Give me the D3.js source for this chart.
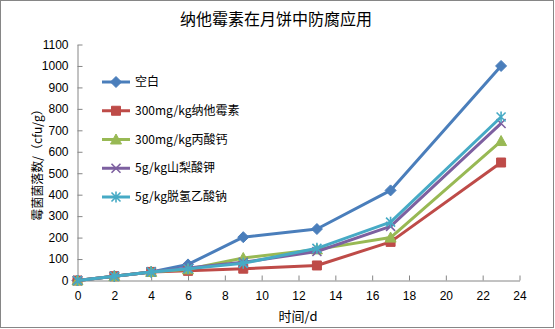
<!DOCTYPE html>
<html><head><meta charset="utf-8">
<script src="https://cdn.jsdelivr.net/npm/d3@7"></script>
<style>body{margin:0;background:#fff}svg{display:block}</style>
</head><body><svg id="c" width="555" height="329"></svg>
<script>
const days = [0, 2, 4, 6, 9, 13, 17, 23];
const seriesNames = ["空白", "300mg/kg纳他霉素", "300mg/kg丙酸钙", "5g/kg山梨酸钾", "5g/kg脱氢乙酸钠"];
const blank = [0, 20, 40, 75, 202, 240, 420, 1000];
const natamycin = [0, 20, 40, 45, 55, 70, 180, 550];
const calciumPropionate = [0, 20, 40, 52, 105, 145, 200, 650];
const potassiumSorbate = [0, 20, 40, 58, 85, 135, 252, 732];
const sodiumDehydroacetate = [0, 20, 40, 55, 80, 150, 272, 762];
const xTicks = [0, 2, 4, 6, 8, 10, 12, 14, 16, 18, 20, 22, 24];
const yTicks = [0, 100, 200, 300, 400, 500, 600, 700, 800, 900, 1000, 1100];
const title = "纳他霉素在月饼中防腐应用";
const xTitle = "时间/d";
const yTitle = "霉菌菌落数/（cfu/g）";

const colors = ["#4A7EBB", "#BE4B48", "#98B954", "#7D60A0", "#46AAC5"];
const shapes = ["diamond", "square", "triangle", "cross", "star"];
const allSeries = [blank, natamycin, calciumPropionate, potassiumSorbate, sodiumDehydroacetate];

const svg = d3.select("#c");
const font = "'Noto Sans CJK SC', 'Noto Sans', sans-serif";
const numFont = "'Liberation Sans', Arial, sans-serif";

svg.append("rect").attr("x", 0.5).attr("y", 0.5).attr("width", 553).attr("height", 327)
  .attr("fill", "#fff").attr("stroke", "#868686").attr("stroke-width", 1);

const x = d3.scaleLinear().domain([0, 24]).range([77.5, 519.5]);
const y = d3.scaleLinear().domain([0, 1100]).range([280.5, 44.5]);

// axes
const xAxis = svg.append("g").attr("transform", `translate(0,${y(0)})`)
  .call(d3.axisBottom(x).tickValues(xTicks).tickFormat(d3.format("d")).tickSizeInner(-5).tickSizeOuter(0).tickPadding(12));
const yAxis = svg.append("g").attr("transform", `translate(${x(0)},0)`)
  .call(d3.axisLeft(y).tickValues(yTicks).tickFormat(d3.format("d")).tickSizeInner(-5).tickSizeOuter(0).tickPadding(9));
[xAxis, yAxis].forEach(a => {
  a.selectAll("path,line").attr("stroke", "#868686").attr("stroke-width", 1);
  a.selectAll("text").attr("font-family", numFont).attr("font-size", 12).attr("fill", "#000");
});
xAxis.selectAll("text").attr("dy", "0.71em").attr("y", 11);

// markers
function markerPath(shape) {
  switch (shape) {
    case "diamond": return "M0,-5.5L5.5,0L0,5.5L-5.5,0Z";
    case "square": return "M-4.5,-4.5H4.5V4.5H-4.5Z";
    case "triangle": return "M0,-5.5L5.5,4.5L-5.5,4.5Z";
    case "cross": return "M-4.5,-4.5L4.5,4.5M4.5,-4.5L-4.5,4.5";
    case "star": return "M-4.5,-4.5L4.5,4.5M4.5,-4.5L-4.5,4.5M0,-5.5V5.5";
  }
}
function drawMarker(g, shape, color, cx, cy) {
  const filled = shape === "diamond" || shape === "square" || shape === "triangle";
  g.append("path").attr("d", markerPath(shape))
    .attr("transform", `translate(${cx},${cy})`)
    .attr("fill", filled ? color : "none")
    .attr("stroke", color).attr("stroke-width", filled ? 1 : 1.6);
}

const line = d3.line().x((d, i) => x(days[i])).y(d => y(d));
allSeries.forEach((vals, si) => {
  const g = svg.append("g");
  g.append("path").attr("d", line(vals)).attr("fill", "none")
    .attr("stroke", colors[si]).attr("stroke-width", 3).attr("stroke-linejoin", "round");
  vals.forEach((v, i) => drawMarker(g, shapes[si], colors[si], x(days[i]), y(v)));
});

// legend
const legendY = d3.scaleLinear().domain([0, 4]).range([82, 197]);
seriesNames.forEach((name, i) => {
  const g = svg.append("g");
  const ly = legendY(i);
  g.append("line").attr("x1", 102).attr("x2", 130).attr("y1", ly).attr("y2", ly)
    .attr("stroke", colors[i]).attr("stroke-width", 3);
  drawMarker(g, shapes[i], colors[i], 116, ly);
  g.append("text").attr("x", 135).attr("y", ly).attr("dy", "0.35em")
    .attr("font-family", font).attr("font-size", 12).attr("fill", "#000").text(name);
});

// titles
svg.append("text").attr("x", 276).attr("y", 19).attr("dy", "0.35em").attr("text-anchor", "middle")
  .attr("font-family", font).attr("font-size", 16).attr("fill", "#000").text(title);
svg.append("text").attr("x", 298).attr("y", 316).attr("dy", "0.35em").attr("text-anchor", "middle")
  .attr("font-family", font).attr("font-size", 13).attr("fill", "#000").text(xTitle);
svg.append("text").attr("transform", "translate(38,162) rotate(-90)").attr("dy", "0.35em")
  .attr("text-anchor", "middle").attr("font-family", font).attr("font-size", 12)
  .attr("fill", "#000").text(yTitle);
</script></body></html>
